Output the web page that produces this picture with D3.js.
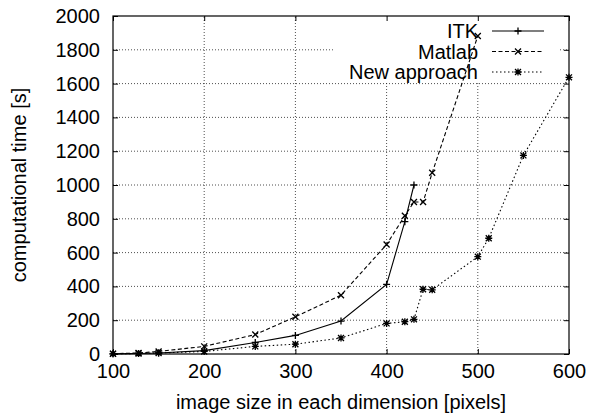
<!DOCTYPE html>
<html><head><meta charset="utf-8">
<script src="https://cdn.jsdelivr.net/npm/d3@7"></script>
<style>
body{margin:0;background:#fff;}
text{font-family:"Liberation Sans",Arial,Helvetica,sans-serif;fill:#000;}
</style></head>
<body><svg id="c" width="589" height="416"></svg>
<script>
const xTicks = [100,200,300,400,500,600];
const yTicks = [0,200,400,600,800,1000,1200,1400,1600,1800,2000];
const itkX = [100,128,150,200,256,300,350,400,420,430];
const itkY = [1,3,6,20,68,110,195,412,783,1000];
const matX = [100,128,150,200,256,300,350,400,420,430,440,450,500];
const matY = [2,6,15,45,115,220,348,648,818,899,899,1072,1882];
const newX = [100,128,150,200,256,300,350,400,420,430,440,450,500,512,550,600];
const newY = [1,3,6,15,45,58,95,181,191,205,383,380,576,685,1175,1637];
const seriesNames = ["ITK","Matlab","New approach"];

const svg = d3.select("#c");
const L=113, R=569, T=16, B=354;
const x = d3.scaleLinear().domain([100,600]).range([L,R]);
const y = d3.scaleLinear().domain([0,2000]).range([B,T]);
const fs = 20;
const fmt = d3.format("d");

// grid
const grid = svg.append("g").attr("stroke","#222").attr("stroke-width",0.8).attr("stroke-dasharray","1,2");
xTicks.slice(1,-1).forEach(v=>grid.append("line").attr("x1",x(v)).attr("x2",x(v)).attr("y1",B).attr("y2",T));
yTicks.slice(1,-1).forEach(v=>grid.append("line").attr("x1",L).attr("x2",R).attr("y1",y(v)).attr("y2",y(v)));

// legend background
svg.append("rect").attr("x",333).attr("y",T+1).attr("width",225).attr("height",65).attr("fill","#fff");

// axes with inward ticks
const ax = svg.append("g");
ax.append("g").attr("transform",`translate(0,${B})`).call(d3.axisBottom(x).tickValues(xTicks).tickFormat(fmt).tickSize(-5).tickPadding(10));
ax.append("g").attr("transform",`translate(0,${T})`).call(d3.axisTop(x).tickValues(xTicks).tickSize(-5).tickFormat(""));
ax.append("g").attr("transform",`translate(${L},0)`).call(d3.axisLeft(y).tickValues(yTicks).tickFormat(fmt).tickSize(-5).tickPadding(13));
ax.append("g").attr("transform",`translate(${R},0)`).call(d3.axisRight(y).tickValues(yTicks).tickSize(-5).tickFormat(""));
ax.selectAll(".domain").remove();
ax.selectAll("line").attr("stroke","#000");
ax.selectAll("g").attr("font-size",fs).attr("font-family",'"Liberation Sans",Arial,sans-serif');
svg.append("rect").attr("x",L).attr("y",T).attr("width",R-L).attr("height",B-T).attr("fill","none").attr("stroke","#000").attr("stroke-width",1.2);

// markers
function plus(s){return `M${-s},0H${s}M0,${-s}V${s}`;}
function cross(s){return `M${-s},${-s}L${s},${s}M${-s},${s}L${s},${-s}`;}
function star(s){return plus(s)+cross(s*0.85);}
const series = [
 {xs:itkX, ys:itkY, dash:null, m:plus(3.5)},
 {xs:matX, ys:matY, dash:"4,2.5", m:cross(3)},
 {xs:newX, ys:newY, dash:"1.5,2.5", m:star(3.5)}
];
const line = d3.line().x(d=>x(d[0])).y(d=>y(d[1]));
series.forEach(s=>{
  const pts = s.xs.map((v,i)=>[v,s.ys[i]]);
  svg.append("path").attr("d",line(pts)).attr("fill","none").attr("stroke","#000").attr("stroke-width",1.1).attr("stroke-dasharray",s.dash);
  svg.append("g").selectAll("path").data(pts).join("path")
    .attr("transform",d=>`translate(${x(d[0])},${y(d[1])})`).attr("d",s.m)
    .attr("stroke","#000").attr("stroke-width",1.3).attr("fill","none");
});

// legend
const ly = [31,51.5,72];
seriesNames.forEach((n,i)=>{
  svg.append("text").attr("x",478).attr("y",ly[i]).attr("dy","0.35em").attr("text-anchor","end").attr("font-size",fs).text(n);
  svg.append("line").attr("x1",492).attr("x2",544).attr("y1",ly[i]).attr("y2",ly[i]).attr("stroke","#000").attr("stroke-width",1.1).attr("stroke-dasharray",series[i].dash);
  svg.append("path").attr("transform",`translate(518,${ly[i]})`).attr("d",series[i].m).attr("stroke","#000").attr("stroke-width",1.3).attr("fill","none");
});

// axis titles
svg.append("text").attr("x",(L+R)/2).attr("y",409).attr("text-anchor","middle").attr("font-size",fs).text("image size in each dimension [pixels]");
svg.append("text").attr("transform","translate(26,185) rotate(-90)").attr("text-anchor","middle").attr("font-size",fs).text("computational time [s]");
</script></body></html>
